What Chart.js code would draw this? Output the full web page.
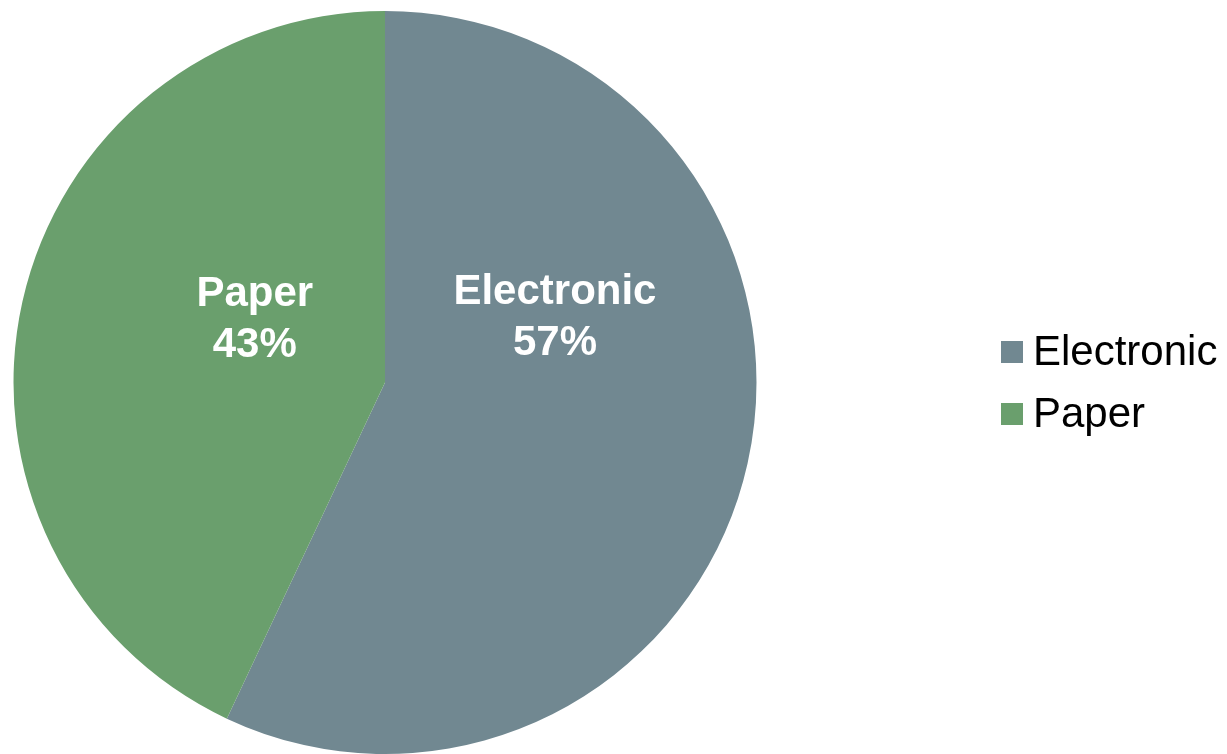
<!DOCTYPE html>
<html>
<head>
<meta charset="utf-8">
<script src="https://cdn.jsdelivr.net/npm/chart.js@4"></script>
<style>
  html, body { margin: 0; padding: 0; background: #fff; }
  #wrap { width: 1227px; height: 754px; position: relative; }
</style>
</head>
<body>
<div id="wrap"><canvas id="myPieChart"></canvas></div>
<script>
// Pie data
const labels = ["Electronic", "Paper"];
const shares = [57, 43];
const colors = ["#718891", "#6a9f6d"];

// label placement inside slices (angle from top in degrees, fraction of radius)
const labelPolar = [
  { angle: 69, r: 0.49 },
  { angle: -64, r: 0.39 },
];

const sliceLabels = {
  id: "sliceLabels",
  afterDatasetsDraw(chart) {
    const ctx = chart.ctx;
    const arcs = chart.getDatasetMeta(0).data;
    ctx.save();
    ctx.fillStyle = "#ffffff";
    ctx.font = "bold 42px 'Liberation Sans', Arial, sans-serif";
    ctx.textAlign = "center";
    ctx.textBaseline = "middle";
    arcs.forEach((arc, i) => {
      const p = labelPolar[i];
      const a = (p.angle * Math.PI) / 180;
      const x = arc.x + Math.sin(a) * arc.outerRadius * p.r;
      const y = arc.y - Math.cos(a) * arc.outerRadius * p.r;
      ctx.fillText(labels[i], x, y - 25);
      ctx.fillText(shares[i] + "%", x, y + 26);
    });
    ctx.restore();
  },
};

const sideLegend = {
  id: "sideLegend",
  afterDraw(chart) {
    const ctx = chart.ctx;
    ctx.save();
    ctx.font = "42px 'Liberation Sans', Arial, sans-serif";
    ctx.textBaseline = "middle";
    labels.forEach((lab, i) => {
      const y = 352 + i * 62;
      ctx.fillStyle = colors[i];
      ctx.fillRect(1001, y - 11, 22, 22);
      ctx.fillStyle = "#000000";
      ctx.fillText(lab, 1033, y + 1);
    });
    ctx.restore();
  },
};

const ctxPie = document.getElementById("myPieChart");
const myPieChart = new Chart(ctxPie, {
  type: "pie",
  data: {
    labels: labels,
    datasets: [
      {
        data: shares,
        backgroundColor: colors,
        borderWidth: 0,
      },
    ],
  },
  options: {
    responsive: true,
    maintainAspectRatio: false,
    animation: false,
    layout: { padding: { top: 11, bottom: 0, left: 13, right: 470 } },
    plugins: {
      legend: { display: false },
      tooltip: { enabled: false },
    },
  },
  plugins: [sliceLabels, sideLegend],
});
</script>
</body>
</html>
